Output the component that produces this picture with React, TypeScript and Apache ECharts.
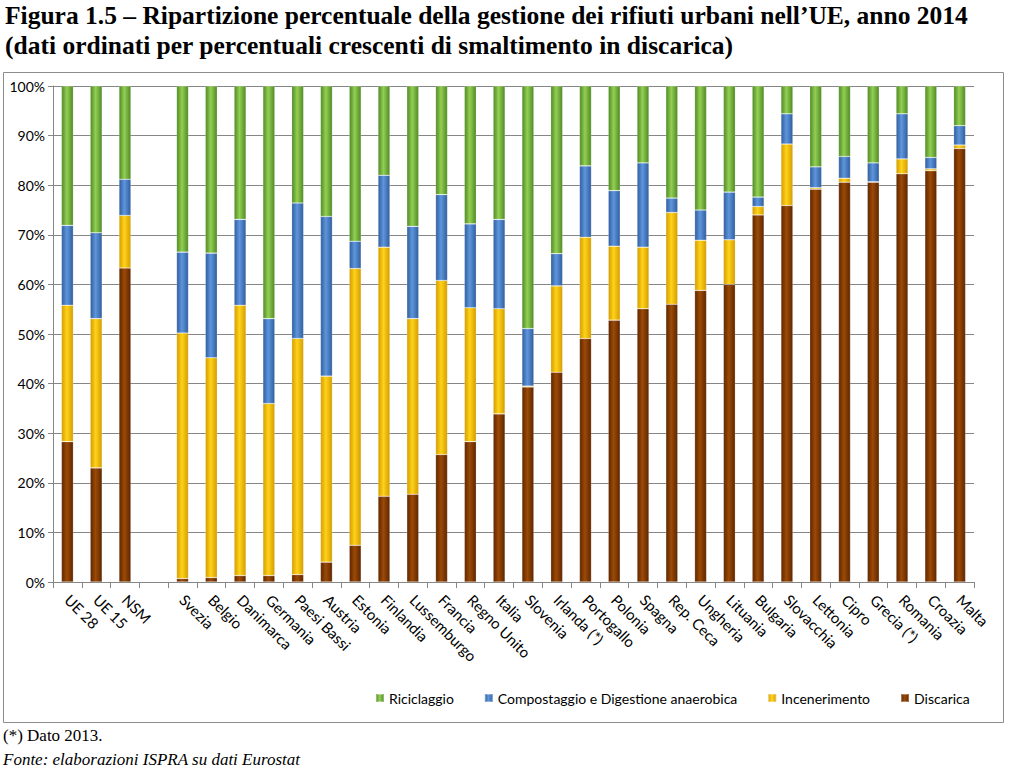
import React, { useEffect, useRef } from "react";
import * as echarts from "echarts";

const categories = [
  "UE 28", "UE 15", "NSM", "",
  "Svezia", "Belgio", "Danimarca", "Germania", "Paesi Bassi", "Austria", "Estonia",
  "Finlandia", "Lussemburgo", "Francia", "Regno Unito", "Italia", "Slovenia",
  "Irlanda (*)", "Portogallo", "Polonia", "Spagna", "Rep. Ceca", "Ungheria",
  "Lituania", "Bulgaria", "Slovacchia", "Lettonia", "Cipro", "Grecia (*)",
  "Romania", "Croazia", "Malta",
];

const discarica = [
  28.3, 23.0, 63.3, null,
  0.7, 0.9, 1.3, 1.3, 1.5, 4.0, 7.4,
  17.3, 17.7, 25.7, 28.3, 33.9, 39.3,
  42.3, 49.1, 52.8, 55.1, 56.0, 58.8,
  60.0, 74.0, 75.9, 79.2, 80.6, 80.6,
  82.3, 82.9, 87.4,
];

const incenerimento = [
  27.5, 30.1, 10.6, null,
  49.5, 44.3, 54.5, 34.7, 47.6, 37.5, 55.8,
  50.2, 35.4, 35.1, 27.0, 21.2, 0.2,
  17.4, 20.4, 14.9, 12.4, 18.5, 10.1,
  9.0, 1.7, 12.4, 0.3, 0.8, 0.1,
  3.0, 0.4, 0.7,
];

const compostaggio = [
  16.1, 17.3, 7.3, null,
  16.3, 21.1, 17.3, 17.1, 27.3, 32.2, 5.5,
  14.5, 18.6, 17.3, 16.9, 18.0, 11.6,
  6.5, 14.4, 11.2, 17.0, 2.9, 6.1,
  9.6, 1.9, 6.1, 4.2, 4.4, 3.8,
  9.1, 2.3, 3.9,
];

const riciclaggio = [
  28.1, 29.6, 18.8, null,
  33.5, 33.7, 26.9, 46.9, 23.6, 26.3, 31.3,
  18.0, 28.3, 21.9, 27.8, 26.9, 48.9,
  33.8, 16.1, 21.1, 15.5, 22.6, 25.0,
  21.4, 22.4, 5.6, 16.3, 14.2, 15.5,
  5.6, 14.4, 8.0,
];

const yTicks = [0, 10, 20, 30, 40, 50, 60, 70, 80, 90, 100];

const seriesNames = [
  "Riciclaggio",
  "Compostaggio e Digestione anaerobica",
  "Incenerimento",
  "Discarica",
];

function grad(dark: string, light: string) {
  return new echarts.graphic.LinearGradient(0, 0, 1, 0, [
    { offset: 0, color: dark },
    { offset: 0.45, color: light },
    { offset: 1, color: dark },
  ]);
}

export default function App() {
  const ref = useRef<HTMLDivElement>(null);
  useEffect(() => {
    if (!ref.current) return;
    const chart = echarts.init(ref.current, undefined, { renderer: "svg" });
    const font = "Lato, 'Open Sans', sans-serif";
    const serif = "'Liberation Serif', 'DejaVu Serif', serif";
    const mk = (name: string, data: (number | null)[], dark: string, light: string) => ({
      name,
      type: "bar",
      stack: "tot",
      barWidth: 12,
      data: data.map((v) => (v === null ? "-" : v)),
      itemStyle: {
        color: grad(dark, light),
        borderColor: "rgba(255,255,255,0.35)",
        borderWidth: 0.6,
      },
      emphasis: { disabled: true },
    });
    chart.setOption({
      animation: false,
      backgroundColor: "#ffffff",
      graphic: [
        {
          type: "text",
          left: 5,
          top: 2,
          style: {
            text: "Figura 1.5 – Ripartizione percentuale della gestione dei rifiuti urbani nell’UE, anno 2014",
            font: `bold 25.5px ${serif}`,
            fill: "#000",
          },
        },
        {
          type: "text",
          left: 5,
          top: 32,
          style: {
            text: "(dati ordinati per percentuali crescenti di smaltimento in discarica)",
            font: `bold 25.5px ${serif}`,
            fill: "#000",
          },
        },
        {
          type: "rect",
          shape: { x: 3.5, y: 72.5, width: 1000, height: 650 },
          style: { fill: "none", stroke: "#8c8c8c", lineWidth: 1 },
          z: -1,
        },
        {
          type: "text",
          left: 3,
          top: 727,
          style: { text: "(*) Dato 2013.", font: `17px ${serif}`, fill: "#000" },
        },
        {
          type: "text",
          left: 3,
          top: 751,
          style: {
            text: "Fonte: elaborazioni ISPRA su dati Eurostat",
            font: `italic 17px ${serif}`,
            fill: "#000",
          },
        },
      ],
      legend: {
        data: seriesNames,
        left: 370,
        top: 686,
        itemWidth: 8,
        itemHeight: 8,
        itemGap: 30,
        icon: "rect",
        textStyle: { fontFamily: font, fontSize: 14, color: "#000" },
      },
      grid: { left: 53, right: 50, top: 86, bottom: 196 },
      xAxis: {
        type: "category",
        data: categories,
        axisLine: { lineStyle: { color: "#868686" } },
        axisTick: { show: true, alignWithLabel: false, length: 6, lineStyle: { color: "#868686" } },
        axisLabel: {
          interval: 0,
          rotate: -45,
          fontFamily: font,
          fontSize: 15,
          color: "#000",
          margin: 15,
        },
      },
      yAxis: {
        type: "value",
        min: yTicks[0],
        max: yTicks[yTicks.length - 1],
        interval: 10,
        axisLine: { show: true, lineStyle: { color: "#868686" } },
        axisTick: { show: true, length: 5, lineStyle: { color: "#868686" } },
        splitLine: { lineStyle: { color: "#868686", width: 1 } },
        axisLabel: {
          formatter: "{value}%",
          fontFamily: font,
          fontSize: 14,
          color: "#000",
          margin: 8,
        },
      },
      series: [
        mk("Discarica", discarica, "#5e2600", "#9c4a06"),
        mk("Incenerimento", incenerimento, "#d49d00", "#ffd21a"),
        mk("Compostaggio e Digestione anaerobica", compostaggio, "#2f5e9e", "#5f95dc"),
        mk("Riciclaggio", riciclaggio, "#4f8a22", "#93cf55"),
      ],
    });
    return () => chart.dispose();
  }, []);
  return (
    <div
      ref={ref}
      style={{ position: "fixed", left: 0, top: 0, width: 1024, height: 778 }}
    />
  );
}
